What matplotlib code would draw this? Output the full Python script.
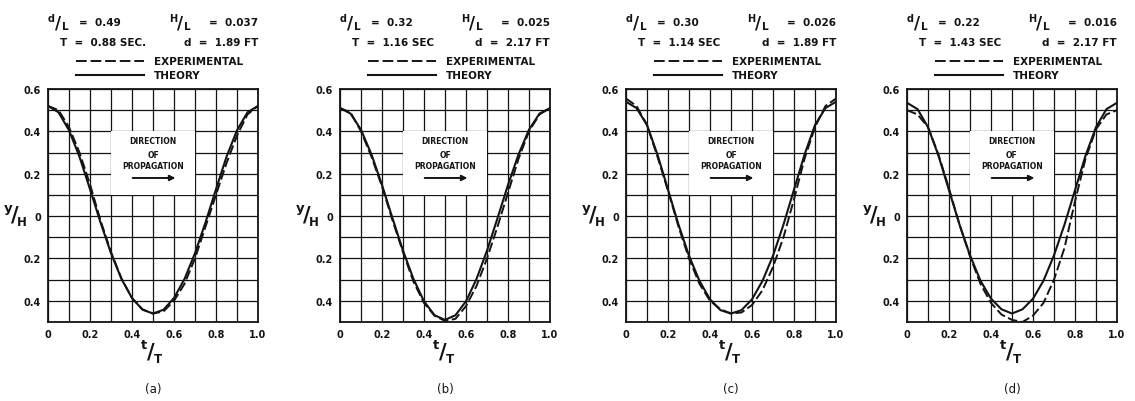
import matplotlib.pyplot as plt
import numpy as np
from matplotlib.lines import Line2D
from matplotlib.patches import Rectangle

# wave profile, t/T in steps of 0.05
t_read = [0.0, 0.05, 0.10, 0.15, 0.20, 0.25, 0.30, 0.35, 0.40, 0.45, 0.50,
          0.55, 0.60, 0.65, 0.70, 0.75, 0.80, 0.85, 0.90, 0.95, 1.0]

theory_a = [0.52, 0.49, 0.405, 0.28, 0.127, -0.03, -0.175, -0.297, -0.387, -0.442, -0.46,
            -0.442, -0.387, -0.297, -0.175, -0.03, 0.127, 0.28, 0.405, 0.49, 0.52]
exp_a = [0.52, 0.50, 0.42, 0.30, 0.15, -0.02, -0.17, -0.295, -0.387, -0.44, -0.46,
         -0.45, -0.40, -0.32, -0.20, -0.05, 0.10, 0.25, 0.38, 0.48, 0.52]

theory_b = [0.51, 0.484, 0.408, 0.291, 0.147, -0.01, -0.163, -0.297, -0.402, -0.468, -0.49,
            -0.468, -0.402, -0.297, -0.163, -0.01, 0.147, 0.291, 0.408, 0.484, 0.51]
exp_b = [0.51, 0.49, 0.40, 0.28, 0.14, -0.02, -0.17, -0.31, -0.41, -0.47, -0.495,
         -0.485, -0.425, -0.33, -0.20, -0.05, 0.11, 0.27, 0.40, 0.48, 0.51]

theory_c = [0.54, 0.51, 0.43, 0.29, 0.125, -0.04, -0.187, -0.306, -0.393, -0.444, -0.46,
            -0.444, -0.393, -0.306, -0.187, -0.04, 0.125, 0.29, 0.43, 0.51, 0.54]
exp_c = [0.555, 0.52, 0.43, 0.28, 0.12, -0.05, -0.20, -0.32, -0.40, -0.44, -0.46,
         -0.455, -0.42, -0.35, -0.24, -0.10, 0.08, 0.27, 0.42, 0.52, 0.555]

theory_d = [0.535, 0.505, 0.42, 0.285, 0.122, -0.04, -0.185, -0.305, -0.39, -0.44, -0.46,
            -0.44, -0.39, -0.305, -0.185, -0.04, 0.122, 0.285, 0.42, 0.505, 0.535]
exp_d = [0.50, 0.48, 0.42, 0.29, 0.13, -0.04, -0.19, -0.32, -0.41, -0.465, -0.49,
         -0.50, -0.47, -0.41, -0.30, -0.15, 0.07, 0.27, 0.41, 0.48, 0.50]

theories = [theory_a, theory_b, theory_c, theory_d]
experiments = [exp_a, exp_b, exp_c, exp_d]

panel_tags = ['(a)', '(b)', '(c)', '(d)']
dl_vals = ['0.49', '0.32', '0.30', '0.22']
hl_vals = ['0.037', '0.025', '0.026', '0.016']
periods = ['0.88 SEC.', '1.16 SEC', '1.14 SEC', '1.43 SEC']
depths = ['1.89 FT', '2.17 FT', '1.89 FT', '2.17 FT']

x_ticks = [0, 0.2, 0.4, 0.6, 0.8, 1.0]
x_labels = ['0', '0.2', '0.4', '0.6', '0.8', '1.0']
y_ticks = [0.6, 0.4, 0.2, 0, -0.2, -0.4]
y_labels = ['0.6', '0.4', '0.2', '0', '0.2', '0.4']

# --- layout (pixels of the 1135x402 canvas) ---
W, H = 1135, 402
K = '#141414'
ax_lefts = [48, 340, 626, 907]
ax_w = 210
ax_top, ax_bot = 90, 323

plt.rcParams['font.family'] = 'DejaVu Sans'
fig = plt.figure(figsize=(W / 100, H / 100), dpi=100)


def px(x, y):
    return x / W, 1 - y / H


def slash_frac(x, y, top, bot, big=False):
    # stacked "a/b" lettering: raised top letter, long slash, lowered bottom letter
    if big:
        fs_t, fs_s, fs_b = 9.5, 15, 8.5
        dx, dy = 7, 7
    else:
        fs_t, fs_s, fs_b = 7, 12, 7.5
        dx, dy = 7, 4.5
    fig.text(*px(x + 3, y - dy), top, fontsize=fs_t, fontweight='bold',
             ha='center', va='center', color=K)
    fig.text(*px(x + 3 + dx, y), '/', fontsize=fs_s, fontweight='bold',
             ha='center', va='center', color=K)
    fig.text(*px(x + 3 + 2 * dx, y + dy), bot, fontsize=fs_b, fontweight='bold',
             ha='center', va='center', color=K)


for i in range(4):
    L = ax_lefts[i]
    ax = fig.add_axes([L / W, 1 - ax_bot / H, ax_w / W, (ax_bot - ax_top) / H])
    ax.set_xlim(0, 1)
    ax.set_ylim(-0.5, 0.6)

    ax.set_xticks(x_ticks)
    ax.set_xticklabels(x_labels)
    ax.set_xticks(np.arange(0, 1.01, 0.1), minor=True)
    ax.set_yticks(y_ticks)
    ax.set_yticklabels(y_labels)
    ax.set_yticks(np.arange(-0.5, 0.61, 0.1), minor=True)
    ax.tick_params(which='both', length=0, labelsize=7, pad=5, colors=K)
    for lab in ax.get_xticklabels() + ax.get_yticklabels():
        lab.set_fontweight('bold')
    ax.grid(which='both', color=K, lw=0.9)
    ax.set_axisbelow(True)
    for sp in ax.spines.values():
        sp.set_linewidth(1.3)
        sp.set_color(K)

    ax.plot(t_read, theories[i], color=K, lw=1.5, zorder=3, solid_joinstyle='round')
    ax.plot(t_read, experiments[i], color=K, lw=1.4, ls=(0, (5, 1.8)), zorder=3)

    # white box with propagation note
    ax.add_patch(Rectangle((0.3, 0.1), 0.4, 0.3, facecolor='white',
                           edgecolor='none', zorder=2))
    for txt, yy in [('DIRECTION', 0.355), ('OF', 0.293), ('PROPAGATION', 0.237)]:
        ax.text(0.5, yy, txt, ha='center', va='center', fontsize=5.5,
                fontweight='bold', color=K, zorder=4)
    ax.annotate('', xy=(0.62, 0.18), xytext=(0.39, 0.18), zorder=4,
                arrowprops=dict(arrowstyle='-|>', lw=1.4, color=K, mutation_scale=8))

    # axis names
    slash_frac(L - 43, 216, 'y', 'H', big=True)
    slash_frac(L + ax_w / 2 - 12, 353, 't', 'T', big=True)
    fig.text(*px(L + ax_w / 2, 390), panel_tags[i], ha='center', va='center',
             fontsize=8.5, color=K)

    # header block
    slash_frac(L, 23, 'd', 'L')
    fig.text(*px(L + 31, 23), '=  ' + dl_vals[i], fontsize=7.5, fontweight='bold',
             ha='left', va='center', color=K)
    slash_frac(L + 122, 23, 'H', 'L')
    fig.text(*px(L + ax_w, 23), '=  ' + hl_vals[i], fontsize=7.5, fontweight='bold',
             ha='right', va='center', color=K)
    fig.text(*px(L + 12, 43), 'T  =  ' + periods[i], fontsize=7.5, fontweight='bold',
             ha='left', va='center', color=K)
    fig.text(*px(L + ax_w, 43), 'd  =  ' + depths[i], fontsize=7.5, fontweight='bold',
             ha='right', va='center', color=K)

    # legend samples
    x0, x1 = px(L + 28, 0)[0], px(L + 96, 0)[0]
    fig.add_artist(Line2D([x0, x1], [px(0, 62)[1]] * 2, color=K, lw=1.4,
                          ls=(0, (5.5, 2))))
    fig.add_artist(Line2D([x0, x1], [px(0, 76)[1]] * 2, color=K, lw=1.5))
    fig.text(*px(L + 106, 62), 'EXPERIMENTAL', fontsize=7.5, fontweight='bold',
             ha='left', va='center', color=K)
    fig.text(*px(L + 106, 76), 'THEORY', fontsize=7.5, fontweight='bold',
             ha='left', va='center', color=K)

fig.savefig('out.png', dpi=100, facecolor='white')
